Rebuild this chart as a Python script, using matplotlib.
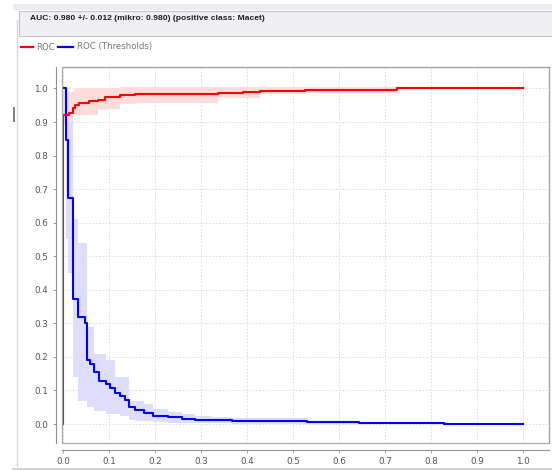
import matplotlib
matplotlib.use("Agg")
import matplotlib.pyplot as plt
from matplotlib.lines import Line2D
from matplotlib.patches import Rectangle
import numpy as np

# ROC (mean curve + band)
roc_x = [0, 0, 0.013, 0.022, 0.027, 0.035, 0.056, 0.076, 0.092, 0.124, 0.157,
         0.338, 0.392, 0.428, 0.526, 0.725, 1.0]
roc_y = [0, 0.92, 0.927, 0.942, 0.952, 0.957, 0.962, 0.967, 0.974, 0.98, 0.984,
         0.986, 0.989, 0.993, 0.995, 1.0, 1.0]
roc_lo = [0, 0.89, 0.89, 0.92, 0.92, 0.92, 0.92, 0.94, 0.94, 0.955, 0.957,
          0.973, 0.973, 0.985, 0.988, 1.0, 1.0]
roc_hi = [0, 0.99, 0.99, 0.995, 1.0, 1.0, 1.0, 1.0, 1.0, 1.003, 1.005,
          1.005, 1.005, 1.005, 1.005, 1.0, 1.0]

# ROC (Thresholds)
thr_x = [0, 0.006, 0.0115, 0.0216, 0.032, 0.047, 0.053, 0.059, 0.068, 0.079,
         0.094, 0.103, 0.114, 0.124, 0.135, 0.144, 0.157, 0.177, 0.196, 0.229,
         0.258, 0.286, 0.323, 0.368, 0.53, 0.643, 0.828, 1.0]
thr_y = [1.0, 0.847, 0.674, 0.372, 0.319, 0.30, 0.192, 0.18, 0.154, 0.127,
         0.119, 0.107, 0.092, 0.082, 0.072, 0.05, 0.042, 0.034, 0.024, 0.02,
         0.016, 0.013, 0.011, 0.008, 0.005, 0.003, 0.001, 0.0]
thr_lo = [0.9, 0.55, 0.45, 0.14, 0.07, 0.07, 0.05, 0.05, 0.04, 0.04,
          0.03, 0.03, 0.03, 0.025, 0.025, 0.012, 0.01, 0.008, 0.005, 0.004,
          0.003, 0.003, 0.002, 0.0, 0.0, 0.001, 0.0, 0.0]
thr_hi = [1.0, 0.92, 0.90, 0.61, 0.54, 0.54, 0.29, 0.29, 0.21, 0.21,
          0.19, 0.19, 0.14, 0.14, 0.14, 0.07, 0.07, 0.06, 0.045, 0.035,
          0.03, 0.025, 0.022, 0.018, 0.008, 0.005, 0.002, 0.0]

ticks = np.round(np.arange(0, 1.01, 0.1), 1)
tick_labels = ["%.1f" % t for t in ticks]

title = "AUC: 0.980 +/- 0.012 (mikro: 0.980) (positive class: Macet)"
legend_names = ["ROC", "ROC (Thresholds)"]

W, H = 552, 471
fig = plt.figure(figsize=(W / 100, H / 100), dpi=100)
fig.patch.set_facecolor("white")


def fx(x):
    return x / W


def fy(y):
    return 1 - y / H


# window chrome
fig.add_artist(Rectangle((fx(13), fy(10)), fx(W - 13), 6 / H, transform=fig.transFigure,
                         facecolor="#ebebf0", edgecolor="none"))
fig.add_artist(Rectangle((fx(19), fy(36)), fx(W - 19), 25 / H, transform=fig.transFigure,
                         facecolor="#efeff4", edgecolor="#c4c4c8", linewidth=0.8))
fig.add_artist(Line2D([fx(17), fx(17)], [fy(20), fy(466)], transform=fig.transFigure,
                      color="#c8daf0", linewidth=1))
fig.add_artist(Line2D([fx(13), fx(W)], [fy(469), fy(469)], transform=fig.transFigure,
                      color="#c8c8cc", linewidth=1.2))
fig.add_artist(Rectangle((fx(13), fy(122)), 2 / W, 15 / H, transform=fig.transFigure,
                         facecolor="#808088", edgecolor="none"))
fig.text(fx(30), fy(19), title, fontsize=6.1, family="Liberation Sans",
         color="#202020", va="center", ha="left", fontweight="bold")

# legend row
fig.add_artist(Line2D([fx(21), fx(33)], [fy(47), fy(47)], transform=fig.transFigure,
                      color="red", linewidth=1.6))
fig.text(fx(36), fy(47), legend_names[0], fontsize=6.2, color="#777777", va="center")
fig.add_artist(Line2D([fx(58), fx(73)], [fy(47), fy(47)], transform=fig.transFigure,
                      color="blue", linewidth=1.6))
fig.text(fx(77), fy(47), legend_names[1], fontsize=6.2, color="#777777", va="center")

ax = fig.add_axes([fx(62), fy(443), fx(549 - 62), (443 - 67) / H])
ax.set_xlim(-0.0022, 1.0565)
ax.set_ylim(-0.0566, 1.064)

ax.fill_between(roc_x, roc_lo, roc_hi, step="post", color="#ffdcdc", linewidth=0, zorder=1)
ax.fill_between(thr_x, thr_lo, thr_hi, step="post", color="#dedefc", linewidth=0, zorder=1)
ax.plot(thr_x, thr_y, drawstyle="steps-post", color="blue", linewidth=1.5, zorder=3)
ax.plot(roc_x, roc_y, drawstyle="steps-post", color="red", linewidth=1.5, zorder=4)

ax.set_xticks(ticks)
ax.set_xticklabels(tick_labels)
ax.set_yticks(ticks)
ax.set_yticklabels(tick_labels)
ax.grid(True, color="#d8d8d8", linestyle=(0, (2, 2)), linewidth=0.6)
ax.set_axisbelow(True)

for s in ["top", "right"]:
    ax.spines[s].set_color("#a8a8a8")
    ax.spines[s].set_linewidth(0.9)
ax.spines["left"].set_position(("outward", 4))
ax.spines["bottom"].set_position(("outward", 5))
ax.spines["left"].set_color("#909090")
ax.spines["bottom"].set_color("#909090")
ax.add_patch(Rectangle((0, 0), 1, 1, transform=ax.transAxes, fill=False,
                       edgecolor="#a8a8a8", linewidth=0.9, clip_on=False, zorder=5))
ax.tick_params(axis="both", labelsize=6.3, labelcolor="#555555", color="#909090",
               length=2, width=0.6)
ax.tick_params(axis="y", pad=4)
ax.tick_params(axis="x", pad=3)

fig.savefig("out.png", dpi=100)
